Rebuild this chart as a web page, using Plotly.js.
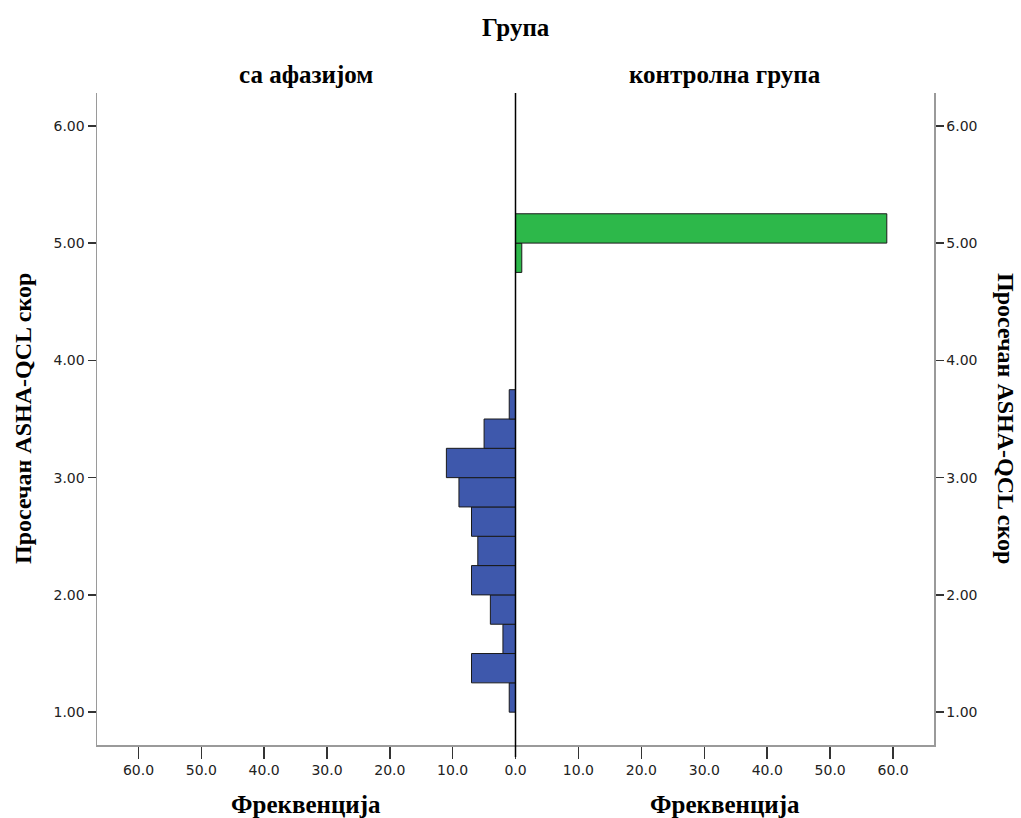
<!DOCTYPE html>
<html>
<head>
<meta charset="utf-8">
<script src="https://cdn.plot.ly/plotly-3.0.1.min.js"></script>
<style>html,body{margin:0;padding:0;background:#fff;}#chart{width:1021px;height:818px;}</style>
</head>
<body>
<div id="chart"></div>
<script>
// Bin centres (bin width 0.25) and frequencies
var aphasiaBins = [1.125, 1.375, 1.625, 1.875, 2.125, 2.375, 2.625, 2.875, 3.125, 3.375, 3.625];
var aphasiaCounts = [1, 7, 2, 4, 7, 6, 7, 9, 11, 5, 1];
var controlBins = [4.875, 5.125];
var controlCounts = [1, 59];
var groupNames = ["са афазијом", "контролна група"];
var xTicks = [0, 10, 20, 30, 40, 50, 60];
var xTicksRight = [10, 20, 30, 40, 50, 60];
var yTicks = [1, 2, 3, 4, 5, 6];
var binWidth = 0.25;

var titleFont = {family: "Liberation Serif", size: 25, color: "#000"};
var sideTitleFont = {family: "Liberation Serif", size: 24, color: "#000"};
var tickFont = {family: "DejaVu Sans", size: 14, color: "#222"};

var traces = [
  {type: "bar", orientation: "h", y: aphasiaBins, x: aphasiaCounts, width: binWidth,
   xaxis: "x", yaxis: "y", marker: {color: "#3E58AC", line: {color: "#1a1a1a", width: 1}},
   name: groupNames[0], hoverinfo: "x+y"},
  {type: "bar", orientation: "h", y: controlBins, x: controlCounts, width: binWidth,
   xaxis: "x2", yaxis: "y2", marker: {color: "#2DB84A", line: {color: "#1a1a1a", width: 1}},
   name: groupNames[1], hoverinfo: "x+y"}
];

var yRange = [0.72, 6.28];
var axisCommon = {showgrid: false, zeroline: false, showline: true, linecolor: "#9a9a9a", linewidth: 1.5,
  ticks: "outside", tickcolor: "#333", tickwidth: 1.5, tickfont: tickFont};

var layout = {
  width: 1021, height: 818,
  margin: {l: 97, r: 87, t: 93, b: 73},
  paper_bgcolor: "#fff", plot_bgcolor: "#fff",
  showlegend: false, bargap: 0,
  xaxis: Object.assign({}, axisCommon, {domain: [0, 0.5], range: [66.6, 0], anchor: "y",
    tickvals: xTicks, tickformat: ".1f", ticklen: 12}),
  xaxis2: Object.assign({}, axisCommon, {domain: [0.5, 1], range: [0, 66.5], anchor: "y2",
    tickvals: xTicksRight, tickformat: ".1f", ticklen: 12}),
  yaxis: Object.assign({}, axisCommon, {domain: [0, 1], range: yRange, anchor: "x", side: "left",
    tickvals: yTicks, tickformat: ".2f", ticklen: 8}),
  yaxis2: Object.assign({}, axisCommon, {domain: [0, 1], range: yRange, anchor: "x2", side: "right",
    tickvals: yTicks, tickformat: ".2f", ticklen: 8}),
  shapes: [
    {type: "line", xref: "paper", yref: "paper", x0: 0.5, x1: 0.5, y0: -12/652, y1: 1,
     line: {color: "#000", width: 1.5}}
  ],
  annotations: [
    {text: "<b>Група</b>", xref: "paper", yref: "paper", x: 0.5, y: 1.101, showarrow: false,
     xanchor: "center", yanchor: "middle", font: titleFont},
    {text: "<b>" + groupNames[0] + "</b>", xref: "paper", yref: "paper", x: 0.25, y: 1.029, showarrow: false,
     xanchor: "center", yanchor: "middle", font: titleFont},
    {text: "<b>" + groupNames[1] + "</b>", xref: "paper", yref: "paper", x: 0.75, y: 1.029, showarrow: false,
     xanchor: "center", yanchor: "middle", font: titleFont},
    {text: "<b>Фреквенција</b>", xref: "paper", yref: "paper", x: 0.25, y: -0.092, showarrow: false,
     xanchor: "center", yanchor: "middle", font: titleFont},
    {text: "<b>Фреквенција</b>", xref: "paper", yref: "paper", x: 0.75, y: -0.092, showarrow: false,
     xanchor: "center", yanchor: "middle", font: titleFont},
    {text: "<b>Просечан ASHA-QCL скор</b>", xref: "paper", yref: "paper", x: -0.0884, y: 0.5, showarrow: false,
     xanchor: "center", yanchor: "middle", textangle: -90, font: sideTitleFont},
    {text: "<b>Просечан ASHA-QCL скор</b>", xref: "paper", yref: "paper", x: 1.0860, y: 0.5, showarrow: false,
     xanchor: "center", yanchor: "middle", textangle: 90, font: sideTitleFont}
  ]
};

Plotly.newPlot("chart", traces, layout, {displayModeBar: false, staticPlot: true});
</script>
</body>
</html>
